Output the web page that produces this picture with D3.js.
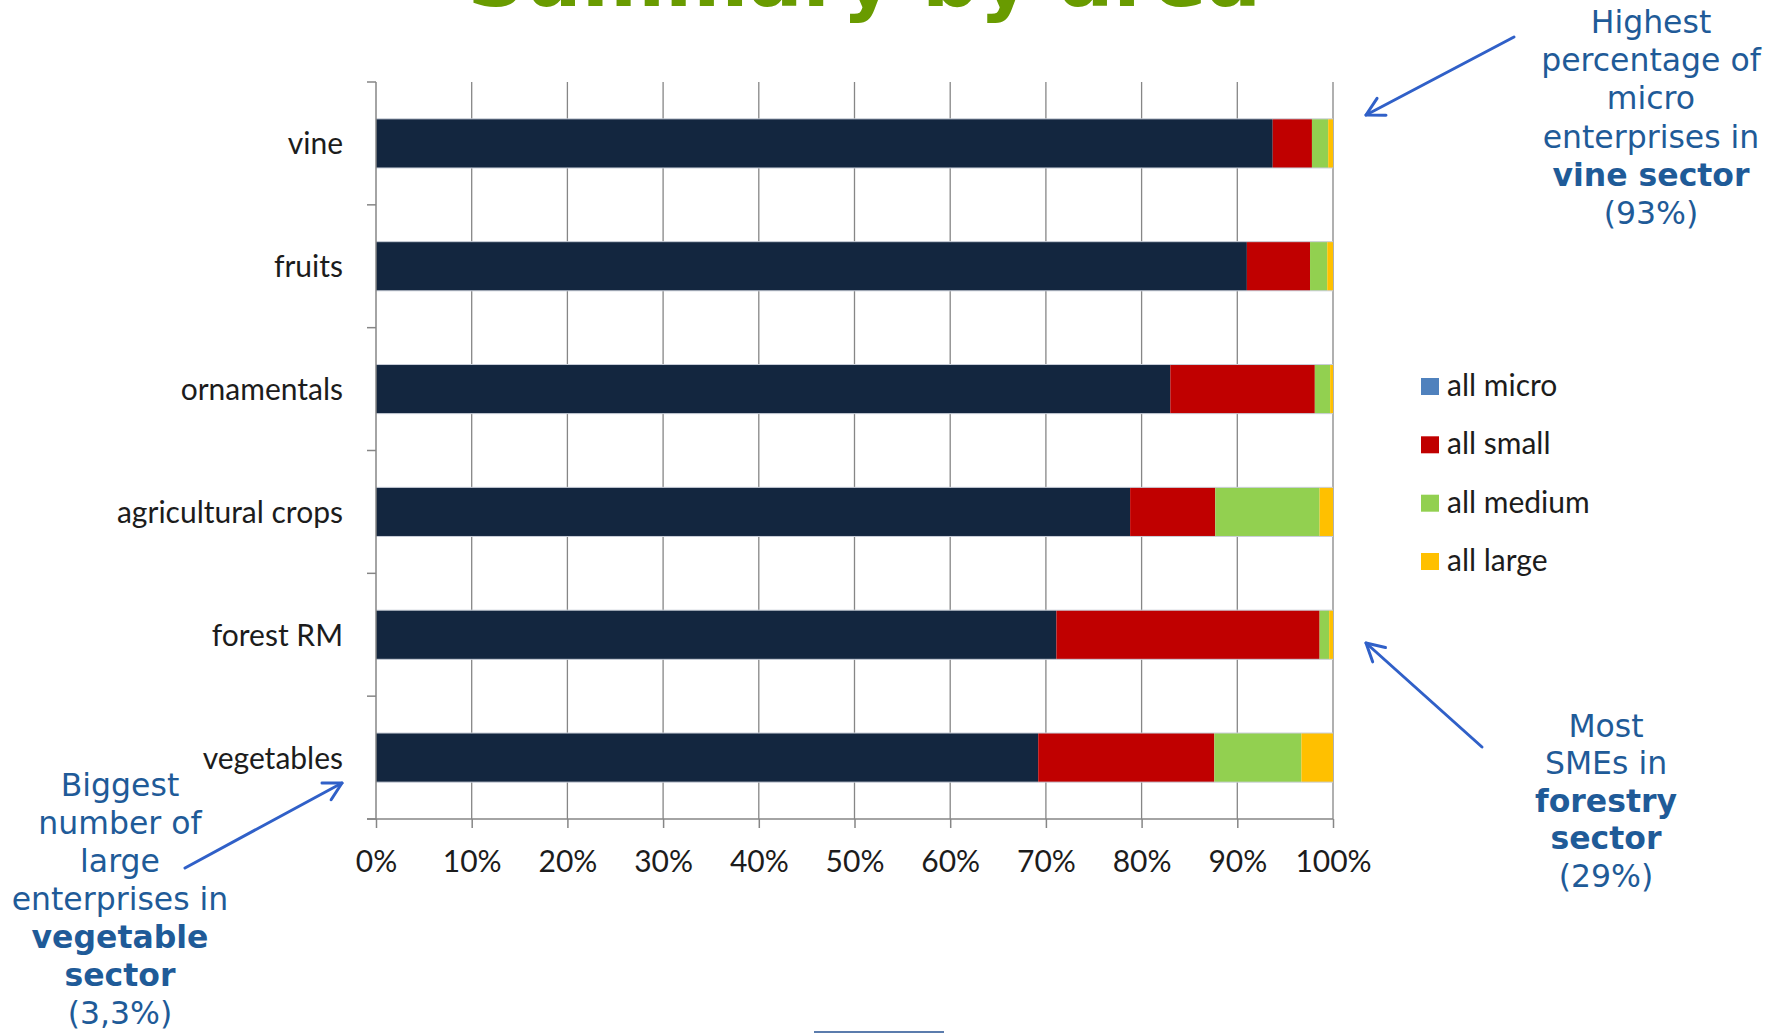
<!DOCTYPE html>
<html>
<head>
<meta charset="utf-8">
<script src="https://cdn.jsdelivr.net/npm/d3@7"></script>
<style>
  html, body { margin: 0; padding: 0; background: #ffffff; }
  svg { display: block; }
</style>
</head>
<body>
<script>
// ---------- data ----------
const categories = ["vine", "fruits", "ornamentals", "agricultural crops", "forest RM", "vegetables"];
const seriesNames = ["all micro", "all small", "all medium", "all large"];
const microValues  = [93.7, 91.0, 83.0, 78.8, 71.1, 69.2];
const smallValues  = [4.1, 6.6, 15.1, 8.9, 27.5, 18.4];
const mediumValues = [1.7, 1.8, 1.6, 10.9, 1.0, 9.1];
const largeValues  = [0.5, 0.6, 0.3, 1.4, 0.4, 3.3];
const xTickValues = [0, 10, 20, 30, 40, 50, 60, 70, 80, 90, 100];
const titleText = "Summary by area";
const noteVine = [["Highest", false], ["percentage of", false], ["micro", false], ["enterprises in", false], ["vine sector", true], ["(93%)", false]];
const noteForest = [["Most", false], ["SMEs in", false], ["forestry", true], ["sector", true], ["(29%)", false]];
const noteVeg = [["Biggest", false], ["number of", false], ["large", false], ["enterprises in", false], ["vegetable", true], ["sector", true], ["(3,3%)", false]];

// ---------- styles ----------
const barColors = ["#13263f", "#c00000", "#92d050", "#ffc000"];
const legendColors = ["#4f81bd", "#c00000", "#92d050", "#ffc000"];
const W = 1783, H = 1033;
const plot = { left: 376, right: 1333, top: 82, bottom: 819 };
const axisColor = "#868686";
const labelFont = "Lato, 'Open Sans', sans-serif";
const noteFont = "'DejaVu Sans', Verdana, sans-serif";
const noteColor = "#1f5b98";
const arrowColor = "#3060c8";
const textColor = "#1c1c1c";

const table = categories.map((c, i) => ({
  category: c,
  "all micro": microValues[i],
  "all small": smallValues[i],
  "all medium": mediumValues[i],
  "all large": largeValues[i]
}));

const svg = d3.select("body").append("svg").attr("width", W).attr("height", H);

const x = d3.scaleLinear().domain([0, 100]).range([plot.left, plot.right]);
const y = d3.scaleBand().domain(categories).range([plot.top, plot.bottom])
  .paddingInner(0.6).paddingOuter(0.3);
const color = d3.scaleOrdinal().domain(seriesNames).range(barColors);
const legendColor = d3.scaleOrdinal().domain(seriesNames).range(legendColors);

// title (cropped at top of the picture, as in the original)
svg.append("text")
  .attr("x", 864).attr("y", 6)
  .attr("text-anchor", "middle")
  .attr("font-family", noteFont).attr("font-weight", "bold")
  .attr("font-size", 80).attr("fill", "#699b00")
  .text(titleText);

// gridlines
svg.append("g").selectAll("line").data(xTickValues.slice(1)).join("line")
  .attr("x1", d => x(d)).attr("x2", d => x(d))
  .attr("y1", plot.top).attr("y2", plot.bottom)
  .attr("stroke", axisColor).attr("stroke-width", 1.3);

// stacked bars
const stack = d3.stack().keys(seriesNames);
const layers = stack(table);
svg.append("g").selectAll("g").data(layers).join("g")
  .attr("fill", d => color(d.key))
  .selectAll("rect").data(d => d).join("rect")
  .attr("x", d => x(d[0]))
  .attr("width", d => Math.max(0, x(d[1]) - x(d[0])))
  .attr("y", d => y(d.data.category))
  .attr("height", y.bandwidth());

// bar light edge lines (top & bottom)
svg.append("g").selectAll("line").data(categories.flatMap(c => [y(c), y(c) + y.bandwidth()])).join("line")
  .attr("x1", plot.left).attr("x2", plot.right)
  .attr("y1", d => d).attr("y2", d => d)
  .attr("stroke", "#c9ced8").attr("stroke-width", 1);

// left axis line + category boundary ticks
const step = y.step();
const boundaries = d3.range(categories.length + 1).map(k => plot.top + k * step);
const gy = svg.append("g");
gy.append("line").attr("x1", plot.left).attr("x2", plot.left)
  .attr("y1", plot.top).attr("y2", plot.bottom)
  .attr("stroke", axisColor).attr("stroke-width", 1.5);
gy.selectAll("line.tick").data(boundaries).join("line").attr("class", "tick")
  .attr("x1", plot.left - 9).attr("x2", plot.left)
  .attr("y1", d => d).attr("y2", d => d)
  .attr("stroke", axisColor).attr("stroke-width", 1.5);
gy.selectAll("text").data(categories).join("text")
  .attr("x", 343)
  .attr("y", d => y(d) + y.bandwidth() / 2 + 11)
  .attr("text-anchor", "end")
  .attr("font-family", labelFont).attr("font-size", 30).attr("fill", textColor)
  .text(d => d);

// bottom axis
const xAxis = d3.axisBottom(x).tickValues(xTickValues).tickFormat(d => d + "%").tickSize(9).tickPadding(0);
const gx = svg.append("g").attr("transform", `translate(0,${plot.bottom})`).call(xAxis);
gx.select(".domain").remove();
gx.append("line").attr("x1", plot.left - 9).attr("x2", plot.right)
  .attr("y1", 0).attr("y2", 0).attr("stroke", axisColor).attr("stroke-width", 1.5);
gx.selectAll(".tick line").attr("stroke", axisColor).attr("stroke-width", 1.5);
gx.selectAll(".tick text")
  .attr("font-family", labelFont).attr("font-size", 30).attr("fill", textColor)
  .attr("y", 53).attr("dy", null);

// legend
const legendY = [396, 454.3, 512.7, 571];
const lg = svg.append("g").selectAll("g").data(seriesNames).join("g")
  .attr("transform", (d, i) => `translate(1421,${legendY[i]})`);
lg.append("rect").attr("x", 0).attr("y", -18).attr("width", 18).attr("height", 17)
  .attr("fill", d => legendColor(d));
lg.append("text").attr("x", 26).attr("y", 0)
  .attr("font-family", labelFont).attr("font-size", 30).attr("fill", textColor)
  .text(d => d);

// annotations
function note(lines, cx, firstBaseline, lineH) {
  const t = svg.append("text")
    .attr("text-anchor", "middle")
    .attr("font-family", noteFont).attr("font-size", 31.5).attr("fill", noteColor);
  lines.forEach((l, i) => {
    t.append("tspan").attr("x", cx).attr("y", firstBaseline + i * lineH)
      .attr("font-weight", l[1] ? "bold" : "normal").text(l[0]);
  });
}
note(noteVine, 1651, 33, 38.2);
note(noteForest, 1606, 736.7, 37.5);
note(noteVeg, 120, 796, 38);

function arrow(x1, y1, x2, y2) {
  const g = svg.append("g").attr("stroke", arrowColor).attr("stroke-width", 3)
    .attr("fill", "none").attr("stroke-linecap", "round").attr("stroke-linejoin", "round");
  g.append("line").attr("x1", x1).attr("y1", y1).attr("x2", x2).attr("y2", y2);
  const a = Math.atan2(y1 - y2, x1 - x2);
  const L = 20, s = 0.5;
  g.append("path").attr("d",
    `M${x2 + L * Math.cos(a + s)},${y2 + L * Math.sin(a + s)}L${x2},${y2}L${x2 + L * Math.cos(a - s)},${y2 + L * Math.sin(a - s)}`);
}
arrow(1514, 37, 1366, 115);
arrow(1482, 747, 1366, 643);
arrow(185, 868, 342, 783);

// small decorative line at bottom
svg.append("line").attr("x1", 814).attr("x2", 944).attr("y1", 1032).attr("y2", 1032)
  .attr("stroke", "#5b7cad").attr("stroke-width", 2);
</script>
</body>
</html>
